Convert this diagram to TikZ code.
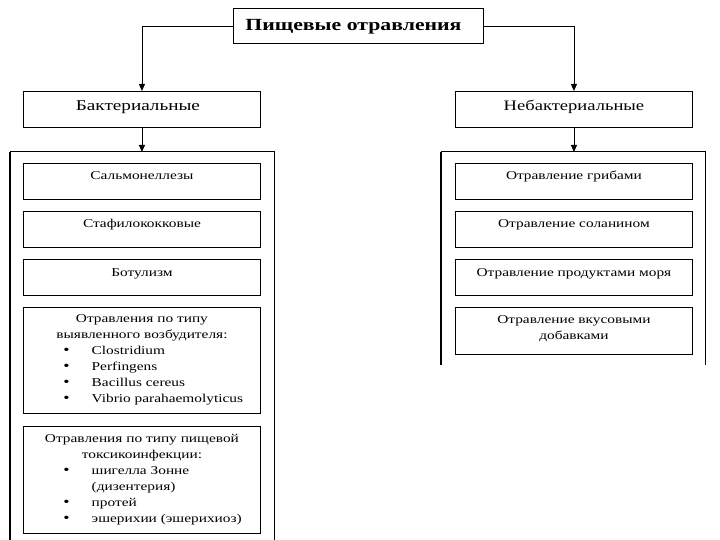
\documentclass[tikz,border=0pt]{standalone}
\usepackage{fontspec}
\setmainfont[FakeStretch=1.28]{Liberation Serif}
\usetikzlibrary{arrows.meta}
\begin{document}
\begin{tikzpicture}[x=1pt,y=-1pt,
  box/.style={draw=black,line width=0.9pt,rectangle,inner sep=0pt,anchor=north west},
  txt/.style={anchor=base,inner sep=0pt,font=\fontsize{12}{14}\selectfont},
  btxt/.style={anchor=base west,inner sep=0pt,font=\fontsize{12}{14}\selectfont},
  bul/.style={anchor=base,inner sep=0pt,font=\fontsize{14}{14}\selectfont},
  conn/.style={line width=0.8pt,-{Triangle[length=7pt,width=6pt]}},
  cont/.style={line width=1pt}]
\useasboundingbox (0,0) rectangle (720,540);
% top
\node[box,minimum width=250pt,minimum height=35pt] (top) at (233,8) {};
\node[anchor=base,inner sep=0pt,font=\fontsize{17}{19}\selectfont\bfseries] (toptxt) at (353.5,31) {Пищевые отравления};
% level 2
\node[box,minimum width=237pt,minimum height=36pt] (bact) at (23,91) {};
\node[anchor=base,inner sep=0pt,font=\fontsize{15}{16}\selectfont] (bacttxt) at ([xshift=-4pt]bact.north |- 0,111) {Бактериальные};
\node[box,minimum width=237pt,minimum height=36pt] (nebact) at (455,91) {};
\node[anchor=base,inner sep=0pt,font=\fontsize{14.5}{16}\selectfont] (nebacttxt) at (nebact.north |- 0,111) {Небактериальные};
\draw[conn] (top.west) -| (bact.north);
\draw[conn] (top.east) -| (nebact.north);
% containers
\coordinate (lc) at (bact.south |- 0,152);
\coordinate (rc) at (nebact.south |- 0,152);
\draw[cont] (10,540) -- (10,152) -- (274,152) -- (274,540);
\draw[line width=1.8pt] (10,540) -- (10,152);
\draw[cont] (441,365) -- (441,152) -- (705,152) -- (705,365);
\draw[line width=1.8pt] (441,365) -- (441,152);
\draw[conn] (bact.south) -- (lc);
\draw[conn] (nebact.south) -- (rc);
% left inner boxes
\node[box,minimum width=237pt,minimum height=36pt] (l1) at (23,163) {};
\node[txt] (l1t) at (l1.north |- 0,180) {Сальмонеллезы};
\node[box,minimum width=237pt,minimum height=36pt] (l2) at (23,211) {};
\node[txt] (l2t) at (l2.north |- 0,228) {Стафилококковые};
\node[box,minimum width=237pt,minimum height=36pt] (l3) at (23,259) {};
\node[txt] (l3t) at (l3.north |- 0,276) {Ботулизм};
\node[box,minimum width=237pt,minimum height=106pt] (l4) at (23,307) {};
\node[txt] (l4a) at (l4.north |- 0,322) {Отравления по типу};
\node[txt] (l4b) at (l4.north |- 0,338) {выявленного возбудителя:};
\foreach \t/\y/\n in {Clostridium/354/a,Perfingens/370/b,Bacillus cereus/386/c,Vibrio parahaemolyticus/402/d}{
  \node[bul] (l4bul\n) at (66.5,\y) {•};
  \node[btxt] (l4i\n) at (91.5,\y) {\t};
}
\node[box,minimum width=237pt,minimum height=107pt] (l5) at (23,426) {};
\node[txt] (l5a) at (l5.north |- 0,442) {Отравления по типу пищевой};
\node[txt] (l5b) at (l5.north |- 0,458) {токсикоинфекции:};
\node[bul] (l5bula) at (66.5,474) {•};
\node[btxt] (l5ia) at (91.5,474) {шигелла Зонне};
\node[btxt] (l5ia2) at (91.5,490) {(дизентерия)};
\node[bul] (l5bulb) at (66.5,506) {•};
\node[btxt] (l5ib) at (91.5,506) {протей};
\node[bul] (l5bulc) at (66.5,522) {•};
\node[btxt] (l5ic) at (91.5,522) {эшерихии (эшерихиоз)};
% right inner boxes
\node[box,minimum width=237pt,minimum height=36pt] (r1) at (455,163) {};
\node[txt] (r1t) at (r1.north |- 0,180) {Отравление грибами};
\node[box,minimum width=237pt,minimum height=36pt] (r2) at (455,211) {};
\node[txt] (r2t) at (r2.north |- 0,228) {Отравление соланином};
\node[box,minimum width=237pt,minimum height=36pt] (r3) at (455,259) {};
\node[txt] (r3t) at (r3.north |- 0,276) {Отравление продуктами моря};
\node[box,minimum width=237pt,minimum height=47pt] (r4) at (455,307) {};
\node[txt] (r4a) at (r4.north |- 0,323) {Отравление вкусовыми};
\node[txt] (r4b) at (r4.north |- 0,339) {добавками};
\end{tikzpicture}
\end{document}
